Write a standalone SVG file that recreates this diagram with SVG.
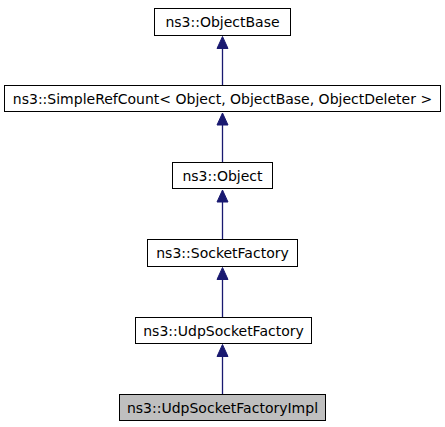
<svg xmlns="http://www.w3.org/2000/svg" width="445" height="427" viewBox="0 0 445 427">
<style>
.node rect{fill:#ffffff;stroke:#000000;stroke-width:1}
.node.cur rect{fill:#bfbfbf}
.node text{font-family:"DejaVu Sans",sans-serif;font-size:14px;text-anchor:middle;fill:#000000}
.edge line{stroke:#191970;stroke-width:1.3}
.edge path{fill:#191970;stroke:#191970;stroke-width:1}
</style>
<rect width="445" height="427" fill="#ffffff"/>
<g id="connectors" class="edge">
<line x1="222.5" y1="85.5" x2="222.5" y2="47"/>
<path d="M222.5,36.5 L228,48.5 L217,48.5 Z"/>
<line x1="222.5" y1="162.5" x2="222.5" y2="124"/>
<path d="M222.5,113 L228,125 L217,125 Z"/>
<line x1="222.5" y1="239.5" x2="222.5" y2="201"/>
<path d="M222.5,190 L228,202 L217,202 Z"/>
<line x1="222.5" y1="317.5" x2="222.5" y2="278"/>
<path d="M222.5,267.5 L228,279.5 L217,279.5 Z"/>
<line x1="222.5" y1="394.5" x2="222.5" y2="356"/>
<path d="M222.5,344.5 L228,356.5 L217,356.5 Z"/>
</g>
<g id="ObjectBase" class="node">
<rect x="154.5" y="8.5" width="136" height="27"/>
<text x="222.5" y="27">ns3::ObjectBase</text>
</g>
<g id="SimpleRefCount" class="node">
<rect x="4.5" y="85.5" width="436" height="26"/>
<text x="222.5" y="103.5">ns3::SimpleRefCount&lt; Object, ObjectBase, ObjectDeleter &gt;</text>
</g>
<g id="Object" class="node">
<rect x="172.5" y="162.5" width="100" height="26"/>
<text x="222.5" y="180.5">ns3::Object</text>
</g>
<g id="SocketFactory" class="node">
<rect x="147.5" y="239.5" width="150" height="27"/>
<text x="222.5" y="258">ns3::SocketFactory</text>
</g>
<g id="UdpSocketFactory" class="node">
<rect x="135.5" y="317.5" width="176" height="26"/>
<text x="223.5" y="335.5">ns3::UdpSocketFactory</text>
</g>
<g id="UdpSocketFactoryImpl" class="node cur">
<rect x="119.5" y="394.5" width="206" height="26"/>
<text x="222.5" y="412.5">ns3::UdpSocketFactoryImpl</text>
</g>
</svg>
